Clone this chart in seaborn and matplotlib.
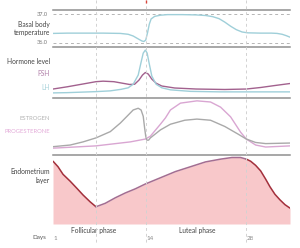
import matplotlib
matplotlib.use("Agg")
import matplotlib.pyplot as plt
import seaborn as sns
import numpy as np

sns.set_style("white")
plt.rcParams['font.family'] = ['Lato', 'DejaVu Sans']

# ---------------- data (days of the cycle) ----------------
temp_day = [1, 3, 5, 8, 10.4, 11.5, 12.2, 12.9, 13.4, 13.7, 13.95, 14.2, 14.45, 14.7, 15.2, 16, 17, 19, 21, 22.3, 23.3, 24.2, 25, 25.8, 26.6, 27.4, 28.2, 30, 31.5, 32.3, 33, 33.6, 34.1]
temp_val = [36.33, 36.34, 36.34, 36.34, 36.33, 36.3, 36.24, 36.14, 36.07, 36.05, 36.1, 36.35, 36.65, 36.83, 36.92, 36.96, 36.98, 36.98, 36.97, 36.95, 36.91, 36.84, 36.72, 36.58, 36.46, 36.38, 36.35, 36.34, 36.34, 36.33, 36.3, 36.25, 36.2]

lh_day = [1, 3, 5, 7, 9, 10.5, 11.5, 12.2, 12.9, 13.3, 13.6, 13.9, 14.15, 14.4, 14.8, 15.4, 16.2, 17.4, 20.2, 24.4, 28, 34.1]
lh_val = [10, 10.5, 11.5, 12.5, 14, 17, 20, 27, 45, 70, 88, 94, 88, 70, 43, 27, 20, 16, 13, 12, 12, 12]

fsh_day = [1, 3, 5, 7, 8, 9.5, 10.7, 11.7, 12.4, 13, 13.5, 13.9, 14.3, 14.8, 15.4, 16.2, 18, 21, 25, 28, 30, 32, 34.1]
fsh_val = [17.6, 22, 27, 32, 33, 32, 29, 26.5, 27, 35, 45, 50, 47, 37, 29, 23.5, 19.6, 17.6, 16.7, 17.6, 20.6, 24.5, 28.4]

estr_day = [1, 3.4, 5.2, 7, 9, 10.4, 11.5, 12.2, 12.9, 13.3, 13.6, 13.8, 13.95, 14.1, 14.35, 14.6, 15.3, 16, 17.4, 19.4, 21.1, 23, 25, 26.8, 28, 29.3, 30.7, 34.1]
estr_val = [14.6, 17.5, 23, 30, 41, 56, 70, 79, 82, 79, 68, 47, 33, 26, 26, 30, 37, 44, 54, 61, 63, 61, 50, 37, 28, 22, 20, 21]

prog_day = [1, 7, 11.8, 13.9, 14.6, 16, 16.7, 17.4, 18.8, 21.1, 23, 24.4, 25.8, 27.2, 28, 29.3, 30.7, 34.1]
prog_val = [12, 16, 23, 28, 33, 54, 65, 79, 91, 95, 93, 84, 67, 40, 28, 17.5, 14, 16]

endo_day = [1, 1.7, 2.4, 3.4, 4.4, 5.2, 6.2, 7, 8.3, 9.7, 11.1, 12.5, 13.9, 16, 18.1, 20.2, 22.3, 24.4, 26, 27.2, 28, 28.6, 29.3, 30, 30.7, 31.3, 32, 32.7, 33.4, 34.1]
endo_val = [91, 83, 72, 62, 51, 42, 32, 25, 30, 38, 45, 51, 58, 67, 76, 83, 90, 94, 96.4, 96.4, 94, 91, 85, 77, 65, 54, 43, 35, 28, 23]

phase_days = [7, 14, 28]
day_ticks = [1, 14, 28]
phase_names = ["Follicular phase", "Luteal phase"]

# ---------------- layout helpers ----------------
W, H = 300, 248
fig = plt.figure(figsize=(W / 100, H / 100), dpi=100)
X0, X1 = 53, 290
XLIM = (1, 34.1)


def panel(top, bottom):
    ax = fig.add_axes([X0 / W, 1 - bottom / H, (X1 - X0) / W, (bottom - top) / H])
    ax.set_xlim(*XLIM)
    ax.set_facecolor('none')
    for s in ax.spines.values():
        s.set_visible(False)
    ax.set_xticks([])
    ax.set_yticks([])
    ax.set_xlabel('')
    ax.set_ylabel('')
    return ax


def ftext(x, y, s, **kw):
    fig.text(x / W, 1 - y / H, s, **kw)

sep_col = '#8f8f8f'
blue = '#9fcfd9'
purple = '#a2618e'
grey = '#a9a9a9'
pink = '#d9a6d2'
dark_red = '#a3303c'
mid_purple = '#a36e92'
fill_pink = '#f8c8ca'

# temperature
ax_t = panel(10, 47)
ax_t.set_ylim(35.86, 37.14)
for v in (36.0, 37.0):
    ax_t.axhline(v, color='#b5b5b5', lw=0.7, ls=(0, (3, 3)))
sns.lineplot(x=temp_day, y=temp_val, ax=ax_t, color=blue, lw=1.0)
for s in ('top', 'bottom'):
    ax_t.spines[s].set_visible(True)
    ax_t.spines[s].set_color(sep_col)
    ax_t.spines[s].set_linewidth(1.1)

# hormones
ax_h = panel(47, 98)
ax_h.set_ylim(0, 100)
sns.lineplot(x=fsh_day, y=fsh_val, ax=ax_h, color=purple, lw=1.0)
sns.lineplot(x=lh_day, y=lh_val, ax=ax_h, color=blue, lw=1.0)
ax_h.spines['bottom'].set_visible(True)
ax_h.spines['bottom'].set_color(sep_col)
ax_h.spines['bottom'].set_linewidth(1.1)

# estrogen / progesterone
ax_e = panel(98, 155)
ax_e.set_ylim(0, 100)
sns.lineplot(x=prog_day, y=prog_val, ax=ax_e, color=pink, lw=1.0)
sns.lineplot(x=estr_day, y=estr_val, ax=ax_e, color=grey, lw=1.0)
ax_e.spines['bottom'].set_visible(True)
ax_e.spines['bottom'].set_color(sep_col)
ax_e.spines['bottom'].set_linewidth(1.1)

# endometrium
ax_n = panel(155, 224)
ax_n.set_ylim(0, 100)
ax_n.fill_between(endo_day, endo_val, 0, color=fill_pink, lw=0)
i7 = endo_day.index(7)
i28 = endo_day.index(28)
sns.lineplot(x=endo_day[:i7 + 1], y=endo_val[:i7 + 1], ax=ax_n, color=dark_red, lw=1.1)
sns.lineplot(x=endo_day[i7:i28 + 1], y=endo_val[i7:i28 + 1], ax=ax_n, color=mid_purple, lw=1.1)
sns.lineplot(x=endo_day[i28:], y=endo_val[i28:], ax=ax_n, color=dark_red, lw=1.1)

# overlay for dashed day lines
ax_o = fig.add_axes([X0 / W, 0, (X1 - X0) / W, 1], zorder=5)
ax_o.set_xlim(*XLIM)
ax_o.set_ylim(H, 0)
ax_o.axis('off')
for d in phase_days:
    ax_o.vlines(d, 0, 244, color='#d2d2d2', lw=0.7, ls=(0, (3, 3)))
ax_o.vlines(14, 0, 2.5, color='#d9443a', lw=1.0)

# ---------------- texts ----------------
lab = '#444444'
fs = 4.8
ftext(48, 14, '37.0', ha='right', va='center', fontsize=4.1, color='#777777')
ftext(48, 43, '36.0', ha='right', va='center', fontsize=4.1, color='#777777')
ftext(50, 24.5, 'Basal body', ha='right', va='center', fontsize=fs, color=lab)
ftext(50, 32.5, 'temperature', ha='right', va='center', fontsize=fs, color=lab)
ftext(50, 61, 'Hormone level', ha='right', va='center', fontsize=fs, color=lab)
ftext(50, 74, 'FSH', ha='right', va='center', fontsize=fs, color='#b07fa8')
ftext(50, 87.5, 'LH', ha='right', va='center', fontsize=fs, color='#a8d2da')
ftext(50, 118.5, 'ESTROGEN', ha='right', va='center', fontsize=4.2, color='#b3b3b3')
ftext(50, 131.5, 'PROGESTERONE', ha='right', va='center', fontsize=4.2, color='#e3aad8')
ftext(50, 172, 'Endometrium', ha='right', va='center', fontsize=fs, color=lab)
ftext(50, 180.5, 'layer', ha='right', va='center', fontsize=fs, color=lab)
ftext(94, 231, phase_names[0], ha='center', va='center', fontsize=fs, color=lab)
ftext(197, 231, phase_names[1], ha='center', va='center', fontsize=fs, color=lab)
ftext(46, 238, 'Days', ha='right', va='center', fontsize=4.5, color='#555555')
for d in day_ticks:
    px = X0 + (d - XLIM[0]) / (XLIM[1] - XLIM[0]) * (X1 - X0)
    ftext(px + 0.5, 238.5, str(d), ha='left', va='center', fontsize=4.5, color='#888888')

fig.savefig('out.png', dpi=100)
